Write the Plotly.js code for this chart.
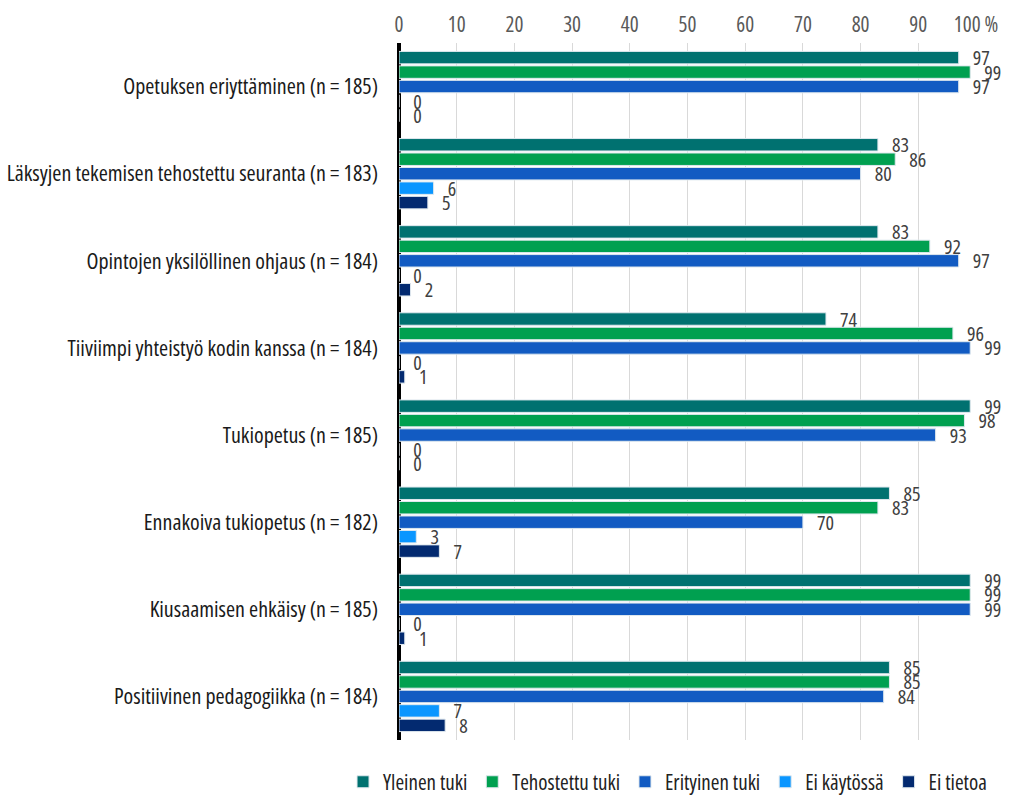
<!DOCTYPE html>
<html>
<head>
<meta charset="utf-8">
<script src="https://cdn.plot.ly/plotly-3.0.1.min.js"></script>
<style>
html,body{margin:0;padding:0;background:#fff;}
#chart{width:1013px;height:795px;}
svg text{font-stretch:75% !important;}
</style>
</head>
<body>
<div id="chart"></div>
<script>
const categories = [
  "Opetuksen eriyttäminen (n = 185)",
  "Läksyjen tekemisen tehostettu seuranta (n = 183)",
  "Opintojen yksilöllinen ohjaus (n = 184)",
  "Tiiviimpi yhteistyö kodin kanssa (n = 184)",
  "Tukiopetus (n = 185)",
  "Ennakoiva tukiopetus (n = 182)",
  "Kiusaamisen ehkäisy (n = 185)",
  "Positiivinen pedagogiikka (n = 184)"
];
const seriesNames = ["Yleinen tuki", "Tehostettu tuki", "Erityinen tuki", "Ei käytössä", "Ei tietoa"];
const yleinenTuki    = [97, 83, 83, 74, 99, 85, 99, 85];
const tehostettuTuki = [99, 86, 92, 96, 98, 83, 99, 85];
const erityinenTuki  = [97, 80, 97, 99, 93, 70, 99, 84];
const eiKaytossa     = [0, 6, 0, 0, 0, 3, 0, 7];
const eiTietoa       = [0, 5, 2, 1, 0, 7, 1, 8];
const tickValues = [0, 10, 20, 30, 40, 50, 60, 70, 80, 90, 100];
const tickLabels = ["0", "10", "20", "30", "40", "50", "60", "70", "80", "90", "100 %"];

const colors = ["#007170", "#00A050", "#125BC2", "#0A96FF", "#032A70"];
const seriesValues = [yleinenTuki, tehostettuTuki, erityinenTuki, eiKaytossa, eiTietoa];
const FONT = '"Open Sans", sans-serif';

const traces = seriesValues.map((vals, i) => ({
  type: 'bar',
  orientation: 'h',
  name: seriesNames[i],
  y: categories,
  x: vals,
  text: vals.map(v => '\u00a0\u00a0\u00a0' + String(v)),
  textposition: 'outside',
  textangle: 0,
  constraintext: 'none',
  cliponaxis: false,
  textfont: {family: FONT, size: 20, color: '#404040'},
  marker: {color: colors[i], line: {color: '#dfe8ee', width: 1}},
  hoverinfo: 'x+name'
}));

const layout = {
  width: 1013,
  height: 795,
  margin: {l: 399, r: 37, t: 43, b: 55, autoexpand: false},
  paper_bgcolor: '#fff',
  plot_bgcolor: '#fff',
  barmode: 'group',
  bargap: 0.17,
  bargroupgap: 0.14,
  showlegend: true,
  legend: {
    orientation: 'h',
    x: -0.097, xanchor: 'left',
    y: -0.031, yanchor: 'top',
    font: {family: FONT, size: 21, color: '#222'},
    traceorder: 'normal',
    itemwidth: 30
  },
  xaxis: {
    side: 'top',
    range: [0, 100],
    tickvals: tickValues,
    ticktext: tickLabels,
    tickfont: {family: FONT, size: 21, color: '#595959'},
    ticklabelstandoff: 6,
    showgrid: true,
    gridcolor: '#d9d9d9',
    gridwidth: 1,
    zeroline: true,
    zerolinecolor: '#000',
    zerolinewidth: 4,
    showline: false,
    ticks: '',
    fixedrange: true
  },
  yaxis: {
    autorange: 'reversed',
    tickfont: {family: FONT, size: 22, color: '#1a1a1a'},
    ticks: '',
    ticklabelstandoff: 20,
    showgrid: false,
    zeroline: false,
    showline: false,
    fixedrange: true
  }
};

Plotly.newPlot('chart', traces, layout, {displayModeBar: false, staticPlot: true});
</script>
</body>
</html>
